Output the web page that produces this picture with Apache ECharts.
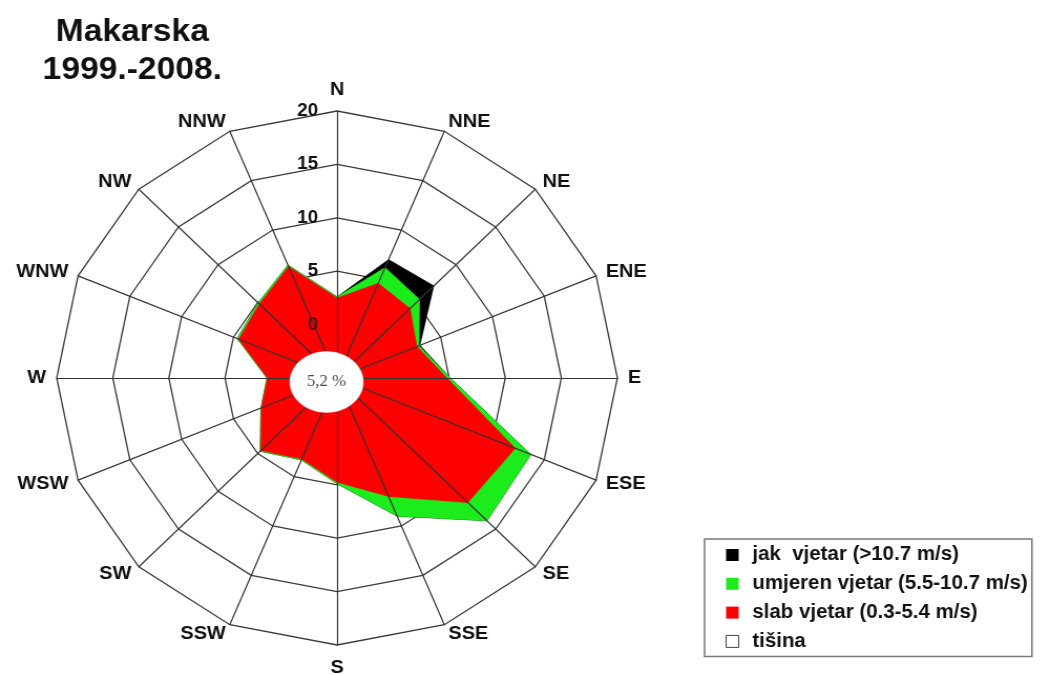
<!DOCTYPE html>
<html>
<head>
<meta charset="utf-8">
<script src="https://cdn.jsdelivr.net/npm/echarts@6/dist/echarts.min.js"></script>
<style>
  html, body { margin: 0; padding: 0; background: #fff; }
  /* the drawing is slightly wider than tall, so the chart canvas is stretched horizontally */
  #chart { width: 993px; height: 675px; transform: scaleX(1.05); transform-origin: 0 0; }
</style>
</head>
<body>
<div id="chart"></div>
<script>
// Wind directions, clockwise from north
const directions = ['N', 'NNE', 'NE', 'ENE', 'E', 'ESE', 'SE', 'SSE',
                    'S', 'SSW', 'SW', 'WSW', 'W', 'WNW', 'NW', 'NNW'];
// Frequency (%) per direction and wind class
const slabVjetar     = [2.5, 4.6, 4.2, 2.7, 4.8, 12.2, 11.5, 7.0, 4.75, 3.2, 4.6, 2.3, 1.2, 4.5, 4.8, 6.3];
const umjerenVjetar  = [0.1, 1.6, 1.2, 0.2, 0.3, 1.5, 2.4, 2.0, 0.15, 0.1, 0.1, 0.05, 0.05, 0.15, 0.15, 0.15];
const jakVjetar      = [0, 0.8, 1.8, 0.1, 0, 0, 0, 0, 0, 0, 0, 0, 0, 0, 0, 0];
const tisina = 5.2;                       // calm, %
const radialTicks = [0, 5, 10, 15, 20];   // labelled rings
const radialMin = -5;                     // centre of the rose (calm area)

const classNames = ['jak  vjetar (>10.7 m/s)', 'umjeren vjetar (5.5-10.7 m/s)', 'slab vjetar (0.3-5.4 m/s)', 'tišina'];
const classColors = ['#000000', '#1cec1c', '#fe0000', '#ffffff'];

const FONT = 'Liberation Sans';
const CX = 321, CY = 378, R = 267;

// radar indicators run counter-clockwise, so reverse all but the first
const ccw = arr => [arr[0]].concat(arr.slice(1).reverse());

// stacked (cumulative) outlines
const sumSlab = slabVjetar;
const sumUmjeren = slabVjetar.map((v, i) => v + umjerenVjetar[i]);
const sumJak = sumUmjeren.map((v, i) => v + jakVjetar[i]);

const maxTick = radialTicks[radialTicks.length - 1];
const step = radialTicks[1] - radialTicks[0];
const nSplit = (maxTick - radialMin) / step;

const gapFor = { N: 12, S: 13 };
const indicatorsGrid = ccw(directions).map(d => ({
  name: d, min: radialMin, max: maxTick, nameGap: gapFor[d] || 10
}));
const indicatorsSpokes = ccw(directions).map((d, i) => {
  const ind = { name: d, min: radialMin, max: maxTick };
  if (i === 0) {
    ind.axisLabel = {
      show: true,
      margin: 18,
      fontSize: 18,
      fontWeight: 700,
      fontFamily: FONT,
      color: v => (Number(v) === 0 ? '#5a0c0c' : '#111'),
      formatter: v => (radialTicks.indexOf(v) >= 0 ? String(v) : '')
    };
  }
  return ind;
});

const hidden = 'rgba(0,0,0,0)';
const ringColors = [];
for (let i = 0; i <= nSplit; i++) {
  const v = radialMin + i * step;
  ringColors.push(v > 0 ? '#3a3a3a' : hidden);
}

const chart = echarts.init(document.getElementById('chart'), null, { renderer: 'canvas' });

const stackSeries = [
  { name: classNames[0], values: sumJak, color: classColors[0] },
  { name: classNames[1], values: sumUmjeren, color: classColors[1] },
  { name: classNames[2], values: sumSlab, color: classColors[2] }
].map(s => ({
  type: 'radar',
  name: s.name,
  radarIndex: 0,
  z: 2,
  symbol: 'none',
  silent: true,
  lineStyle: { width: 0.6, color: s.color },
  areaStyle: { color: s.color, opacity: 1 },
  itemStyle: { color: s.color },
  data: [{ value: ccw(s.values), name: s.name }]
}));

stackSeries.push({
  type: 'radar', name: classNames[3], radarIndex: 0, symbol: 'none',
  itemStyle: { color: '#ffffff', borderColor: '#555', borderWidth: 1 },
  data: []
});

chart.setOption({
  animation: false,
  backgroundColor: '#ffffff',
  radar: [
    {
      center: [CX, CY], radius: R, startAngle: 90, shape: 'polygon',
      splitNumber: nSplit, z: 0,
      indicator: indicatorsGrid,
      nameGap: 10,
      axisName: { color: '#111', fontSize: 19, fontWeight: 700, fontFamily: FONT },
      axisLine: { show: false },
      axisTick: { show: false },
      axisLabel: { show: false },
      splitArea: { show: false },
      splitLine: { show: true, lineStyle: { color: ringColors, width: 1.3 } }
    },
    {
      center: [CX, CY], radius: R, startAngle: 90, shape: 'polygon',
      splitNumber: nSplit, z: 3,
      indicator: indicatorsSpokes,
      axisName: { show: false },
      axisLine: { show: true, lineStyle: { color: '#333', width: 1.2 } },
      axisTick: { show: false },
      axisLabel: { show: false },
      splitArea: { show: false },
      splitLine: { show: false }
    }
  ],
  legend: {
    orient: 'vertical',
    left: 671, top: 539,
    padding: [6, 4, 5, 20],
    itemWidth: 12, itemHeight: 12, itemGap: 8.8,
    icon: 'rect',
    borderColor: '#777', borderWidth: 1.5,
    selectedMode: false,
    textStyle: { fontSize: 19.5, fontWeight: 700, fontFamily: FONT, color: '#111', padding: [0, 0, 0, 8] },
    data: [
      { name: classNames[0] },
      { name: classNames[1] },
      { name: classNames[2] },
      { name: classNames[3], itemStyle: { color: '#ffffff', borderColor: '#444', borderWidth: 1 } }
    ]
  },
  graphic: [
    {
      type: 'text', x: 126, y: 13, z: 20,
      style: {
        text: 'Makarska\n1999.-2008.', fill: '#111',
        font: 'bold 32px "Liberation Sans", Arial, sans-serif', lineHeight: 38,
        textAlign: 'center', textVerticalAlign: 'top'
      }
    },
    {
      type: 'ellipse', z: 20,
      shape: { cx: CX - 10, cy: CY + 4, rx: 35, ry: 30.5 },
      style: { fill: '#ffffff', stroke: '#dddddd', lineWidth: 0.5 }
    },
    {
      type: 'text', x: CX - 10, y: CY + 4, z: 21,
      style: {
        text: tisina.toFixed(1).replace('.', ',') + ' %', fill: '#4a4a4a',
        font: '16px "Liberation Serif", "Times New Roman", serif',
        textAlign: 'center', textVerticalAlign: 'middle'
      }
    }
  ],
  series: stackSeries
});
</script>
</body>
</html>
